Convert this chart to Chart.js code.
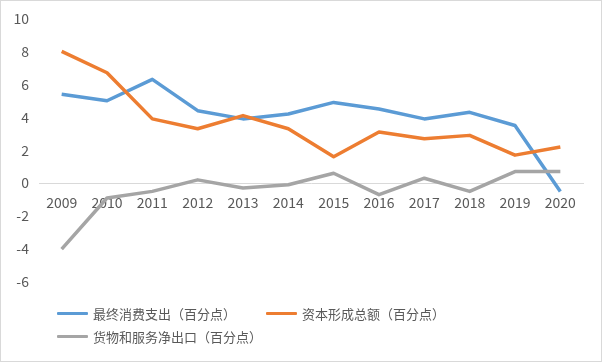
<!DOCTYPE html>
<html>
<head>
<meta charset="utf-8">
<script src="https://cdn.jsdelivr.net/npm/chart.js@4/dist/chart.umd.min.js"></script>
<style>
  html, body { margin: 0; padding: 0; background: #fff; }
  #wrap { position: relative; width: 602px; height: 362px; overflow: hidden; }
  #c { position: absolute; left: 0; top: 0; }
  #frame { position: absolute; left: 0; top: 0; width: 602px; height: 362px; box-sizing: border-box; border: 1px solid #d9d9d9; pointer-events: none; }
  #legend { position: absolute; left: 57px; top: 303px; width: 440px; display: flex; flex-wrap: wrap; row-gap: 3px;
            font-family: "Noto Sans CJK SC", sans-serif; font-size: 13px; color: #595959; }
  .item { width: 209px; display: flex; align-items: center; height: 20px; }
  .swatch { width: 31px; height: 3px; margin-right: 5px; border-radius: 1px; }
</style>
</head>
<body>
<div id="wrap">
  <canvas id="c" width="602" height="362"></canvas>
  <div id="legend"></div>
  <div id="frame"></div>
</div>
<script>
const categories = ["2009","2010","2011","2012","2013","2014","2015","2016","2017","2018","2019","2020"];
const seriesNames = ["最终消费支出（百分点）", "资本形成总额（百分点）", "货物和服务净出口（百分点）"];
const consumption = [5.4, 5.0, 6.3, 4.4, 3.9, 4.2, 4.9, 4.5, 3.9, 4.3, 3.5, -0.5];
const capital     = [8.0, 6.7, 3.9, 3.3, 4.1, 3.3, 1.6, 3.1, 2.7, 2.9, 1.7, 2.2];
const netExports  = [-4.0, -0.9, -0.5, 0.2, -0.3, -0.1, 0.6, -0.7, 0.3, -0.5, 0.7, 0.7];
const yTicks = [-6, -4, -2, 0, 2, 4, 6, 8, 10];
const colors = ["#5B9BD5", "#ED7D31", "#A5A5A5"];

const tickFont = { family: "'Noto Sans CJK SC', sans-serif", size: 14 };
const values = [consumption, capital, netExports];

const chart = new Chart(document.getElementById('c'), {
  type: 'line',
  data: {
    labels: categories,
    datasets: values.map((v, i) => ({
      label: seriesNames[i],
      data: v,
      borderColor: colors[i],
      backgroundColor: colors[i],
      borderWidth: 3.5,
      pointRadius: 0,
      pointHoverRadius: 0,
      tension: 0,
      fill: false,
      borderJoinStyle: 'round',
      order: 3 - i
    }))
  },
  options: {
    responsive: false,
    animation: false,
    devicePixelRatio: 1,
    layout: { padding: { left: 13, right: 19, top: 18, bottom: 80 } },
    plugins: { legend: { display: false }, tooltip: { enabled: false } },
    scales: {
      x: {
        type: 'category',
        position: { y: 0 },
        offset: true,
        grid: { display: false, drawTicks: false },
        border: { display: true, color: '#d9d9d9', width: 1 },
        ticks: { color: '#595959', font: tickFont, padding: 11, maxRotation: 0, autoSkip: false },
        afterFit(scale) { scale.height = 27; }
      },
      y: {
        min: -6, max: 10,
        afterBuildTicks(scale) { scale.ticks = yTicks.map(v => ({ value: v })); },
        grid: { display: false, drawTicks: false },
        border: { display: false },
        ticks: { color: '#595959', font: tickFont, padding: 10 },
        afterFit(scale) { scale.width = 26; }
      }
    }
  }
});

const legend = document.getElementById('legend');
chart.data.datasets.forEach(ds => {
  const item = document.createElement('div');
  item.className = 'item';
  const sw = document.createElement('span');
  sw.className = 'swatch';
  sw.style.background = ds.borderColor;
  const tx = document.createElement('span');
  tx.textContent = ds.label;
  item.appendChild(sw); item.appendChild(tx);
  legend.appendChild(item);
});
</script>
</body>
</html>
